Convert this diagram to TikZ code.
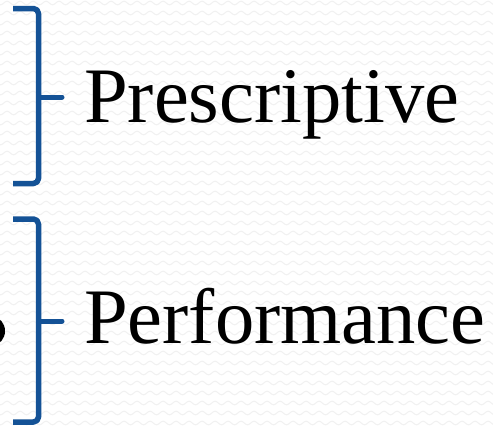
\documentclass[tikz,border=0pt]{standalone}
\usepackage{fontspec}
\setmainfont{Liberation Serif}
\usetikzlibrary{decorations.pathmorphing}
\definecolor{braceblue}{RGB}{20,82,150}
\definecolor{bgwave}{RGB}{241,241,241}
\tikzset{
  bracestroke/.style={draw=braceblue, line width=5.5pt, line cap=butt, line join=round, rounded corners=5pt},
  bracetip/.style={draw=braceblue, line width=5pt, line cap=round},
  label/.style={font=\fontsize{78.6}{90}\selectfont, inner sep=0pt, anchor=base west, text=black},
}
\begin{document}
\begin{tikzpicture}[x=1pt, y=-1pt]
\useasboundingbox (0,0) rectangle (493,429);
\clip (0,0) rectangle (493,429);
\fill[white] (0,0) rectangle (493,429);
\foreach \r in {0,...,43}{
  \draw[bgwave, line width=1pt, decorate, decoration={snake, amplitude=1.8pt, segment length=13pt}]
    (-10,{\r*10+3}) -- (505,{\r*10+3});
}
% partial glyph at left edge
\fill[black] (-7,331) ellipse [x radius=12, y radius=14];
% brace 1
\draw[bracestroke] (13,8.5) -- (38.5,8.5) -- (38.5,183.5) -- (13,183.5);
\draw[bracetip] (38.5,97) -- (62,97);
% brace 2
\draw[bracestroke] (13,219) -- (38.5,219) -- (38.5,422) -- (13,422);
\draw[bracetip] (38.5,321) -- (62,321);
% labels
\node[label] (presc) at (84,122) {Prescriptive};
\node[label] (perf) at (84,343) {Performance};
\end{tikzpicture}
\end{document}
